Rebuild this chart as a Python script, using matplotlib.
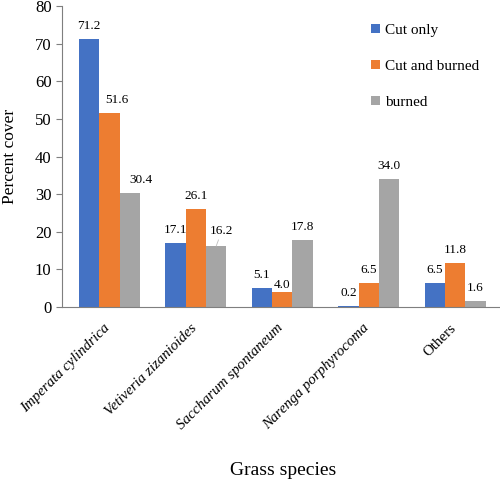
import numpy as np
import matplotlib
matplotlib.use("Agg")
import matplotlib.pyplot as plt
from matplotlib.transforms import ScaledTranslation

# ---------------------------------------------------------------------------
# Data
# ---------------------------------------------------------------------------
species = ["Imperata cylindrica", "Vetiveria zizanioides", "Saccharum spontaneum",
           "Narenga porphyrocoma", "Others"]
italic = [True, True, True, True, False]
cut_only = [71.2, 17.1, 5.1, 0.2, 6.5]
cut_burned = [51.6, 26.1, 4.0, 6.5, 11.8]
burned = [30.4, 16.2, 17.8, 34.0, 1.6]
series_names = ["Cut only", "Cut and burned", "burned"]
colors = ["#4472C4", "#ED7D31", "#A5A5A5"]

# label nudges (points) where the original chart moved labels off the default
nudge = {(1, 0): (5.5, 5), (2, 0): (8, 5), (1, 2): (0, 1), (2, 1): (4, 6.5)}

plt.rcParams["font.family"] = ["Liberation Serif", "DejaVu Serif"]

fig = plt.figure(figsize=(5.0, 4.79), dpi=100)
ax = fig.add_axes([0.124, 0.359, 0.876, 0.6285])

x = np.arange(len(species))
w = 0.235
for i, (vals, name, col) in enumerate(zip([cut_only, cut_burned, burned],
                                          series_names, colors)):
    bars = ax.bar(x + (i - 1) * w, vals, w, color=col, label=name)
    for j, (b, v) in enumerate(zip(bars, vals)):
        cx = b.get_x() + b.get_width() / 2
        off = nudge.get((i, j), (0, 5))
        props = None
        if (i, j) == (2, 1):
            props = dict(arrowstyle="-", color="#BFBFBF", lw=0.6,
                         shrinkA=0, shrinkB=0)
        ax.annotate(f"{v:.1f}", xy=(cx, v), xytext=off,
                    textcoords="offset points", ha="center", va="bottom",
                    fontsize=9.5, arrowprops=props)

ax.set_xlim(-0.55, 4.52)
ax.set_ylim(0, 80)
ax.set_yticks(range(0, 81, 10))
ax.tick_params(axis="y", labelsize=12, length=4, width=0.8, color="#7F7F7F")
ax.tick_params(axis="x", length=0, pad=6)
ax.set_xticks(x)
ax.set_xticklabels(species, rotation=45, ha="right", rotation_mode="anchor",
                   fontsize=10.8)
shift = ScaledTranslation(-6 / 100, -6 / 100, fig.dpi_scale_trans)
for lbl, it in zip(ax.get_xticklabels(), italic):
    lbl.set_style("italic" if it else "normal")
    lbl.set_transform(lbl.get_transform() + shift)

for s in ["top", "right"]:
    ax.spines[s].set_visible(False)
ax.spines["left"].set_color("#7F7F7F")
ax.spines["bottom"].set_color("#7F7F7F")

ax.set_ylabel("Percent cover", fontsize=12.5, labelpad=12)
fig.text(0.566, 0.0, "Grass species", fontsize=14, ha="center", va="bottom")

ax.legend(loc="upper right", bbox_to_anchor=(0.984, 0.985), frameon=False,
          fontsize=11, handlelength=0.55, handleheight=0.55, handletextpad=0.35,
          labelspacing=1.5)

fig.savefig("out.png", dpi=100)
